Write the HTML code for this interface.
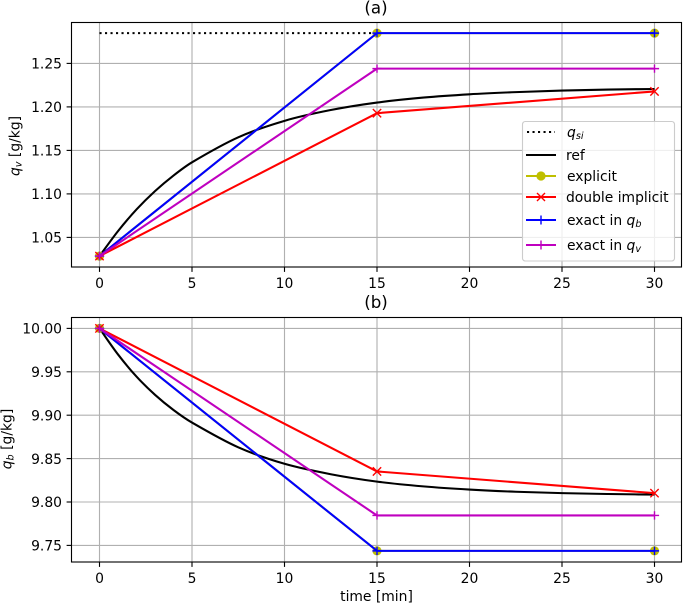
<!DOCTYPE html>
<html lang="en">
<head>
<meta charset="utf-8">
<title>Moisture partition: q_v and q_b versus time</title>
<style>
html,body{margin:0;padding:0;background:#fff;width:683px;height:605px;overflow:hidden}
svg{display:block}
text{font-family:"DejaVu Sans","Liberation Sans",sans-serif;font-size:13.89px;fill:#000}
.it{font-style:italic}
</style>
</head>
<body>
<svg id="fig" width="683" height="605" viewBox="0 0 683 605" xmlns="http://www.w3.org/2000/svg">
  <rect x="0" y="0" width="683" height="605" fill="#fff"/>
  <g id="panel-a"></g>
  <g id="panel-b"></g>

  <text x="376" y="13.5" text-anchor="middle" style="font-size:16.67px">(a)</text>
  <text x="376" y="308" text-anchor="middle" style="font-size:16.67px">(b)</text>
  <text x="376.5" y="601" text-anchor="middle">time [min]</text>
  <text transform="translate(19.5,146) rotate(-90)" text-anchor="middle"><tspan class="it">q</tspan><tspan class="it" dy="2" style="font-size:9.7px">v</tspan><tspan dy="-2"> [g/kg]</tspan></text>
  <text transform="translate(11.5,439) rotate(-90)" text-anchor="middle"><tspan class="it">q</tspan><tspan class="it" dy="2" style="font-size:9.7px">b</tspan><tspan dy="-2"> [g/kg]</tspan></text>

  <g id="legend">
    <rect x="522.5" y="121.5" width="152" height="139.5" rx="2.8" fill="#fff" fill-opacity="0.8" stroke="#ccc" stroke-width="1.1"/>

    <g>
      <line x1="527" y1="132" x2="555" y2="132" stroke="#000" stroke-width="2.08" stroke-dasharray="2.1 3.4"/>
      <text x="567" y="137"><tspan class="it">q</tspan><tspan class="it" dy="2" style="font-size:9.7px">si</tspan></text>
    </g>
    <g>
      <line x1="526" y1="155" x2="556" y2="155" stroke="#000" stroke-width="2.08"/>
      <text x="566" y="160">ref</text>
    </g>
    <g>
      <line x1="526" y1="176" x2="556" y2="176" stroke="#bfbf00" stroke-width="2.08"/>
      <circle cx="541" cy="176" r="4.6" fill="#bfbf00"/>
      <text x="567" y="181">explicit</text>
    </g>
    <g>
      <line x1="526" y1="197" x2="556" y2="197" stroke="#f00" stroke-width="2.08"/>
      <path d="M537 193L545 201M537 201L545 193" stroke="#f00" stroke-width="1.4" fill="none"/>
      <text x="566" y="202">double implicit</text>
    </g>
    <g>
      <line x1="526" y1="220" x2="556" y2="220" stroke="#00f" stroke-width="2.08"/>
      <path d="M541 215.5V224.5" stroke="#00f" stroke-width="1.4" fill="none"/>
      <text x="567" y="225">exact in <tspan class="it">q</tspan><tspan class="it" dy="2" style="font-size:9.7px">b</tspan></text>
    </g>
    <g>
      <line x1="526" y1="245" x2="556" y2="245" stroke="#bf00bf" stroke-width="2.08"/>
      <path d="M541 240.5V249.5" stroke="#bf00bf" stroke-width="1.4" fill="none"/>
      <text x="567" y="250">exact in <tspan class="it">q</tspan><tspan class="it" dy="2" style="font-size:9.7px">v</tspan></text>
    </g>
  </g>
</svg>

<script>
// ---- shared categories and tick labels ----
const refTime = [0, 1, 2, 3, 4, 5, 7.5, 10, 12.5, 15, 17.5, 20, 22.5, 25, 27.5, 30];
const stepTime = [0, 15, 30];
const xTicks = [0, 5, 10, 15, 20, 25, 30];
const yTicksA = ["1.05", "1.10", "1.15", "1.20", "1.25"];
const yTicksB = ["9.75", "9.80", "9.85", "9.90", "9.95", "10.00"];

// ---- panel (a): q_v ----
const qsiA = [1.2848, 1.2848];
const qsiTimeA = [0, 15];
const refA = [1.0285, 1.0572, 1.0821, 1.1032, 1.1211, 1.1363, 1.165, 1.184, 1.1964, 1.205, 1.2107, 1.2145, 1.217, 1.2188, 1.2199, 1.2206];
const explicitA = [1.0285, 1.2848, 1.2848];
const doubleImplicitA = [1.0285, 1.1928, 1.2178];
const exactQbA = [1.0285, 1.2848, 1.2848];
const exactQvA = [1.0285, 1.244, 1.244];

// ---- panel (b): q_b ----
const refB = [10.0, 9.97, 9.9445, 9.9235, 9.906, 9.8915, 9.863, 9.844, 9.832, 9.8235, 9.818, 9.8143, 9.8118, 9.8102, 9.8092, 9.8085];
const explicitB = [10.0, 9.7437, 9.7437];
const doubleImplicitB = [10.0, 9.8352, 9.8102];
const exactQbB = [10.0, 9.7437, 9.7437];
const exactQvB = [10.0, 9.7845, 9.7845];

const NS = 'http://www.w3.org/2000/svg';
const plotLeft = 71.5, plotRight = 681.5;
const xScale = t => 99.5 + t * 18.5;

function node(parent, tag, attrs) {
  const el = document.createElementNS(NS, tag);
  Object.keys(attrs).forEach(k => el.setAttribute(k, attrs[k]));
  parent.appendChild(el);
  return el;
}

function smoothPath(xs, ys) {
  let d = 'M' + xs[0] + ' ' + ys[0];
  for (let i = 0; i < xs.length - 1; i++) {
    const h = xs[i + 1] - xs[i];
    const p = Math.max(i - 1, 0), n = Math.min(i + 2, xs.length - 1);
    const m0 = (ys[i + 1] - ys[p]) / (xs[i + 1] - xs[p]);
    const m1 = (ys[n] - ys[i]) / (xs[n] - xs[i]);
    const c1x = xs[i] + h / 3, c1y = ys[i] + m0 * h / 3;
    const c2x = xs[i + 1] - h / 3, c2y = ys[i + 1] - m1 * h / 3;
    d += 'C' + c1x + ' ' + c1y + ' ' + c2x + ' ' + c2y + ' ' + xs[i + 1] + ' ' + ys[i + 1];
  }
  return d;
}

function drawSeries(g, name, ts, vals, yScale, color, marker, dash, smooth) {
  const xs = ts.map(xScale), ys = vals.map(yScale);
  const line = node(g, 'path', {
    d: smooth ? smoothPath(xs, ys) : 'M' + xs.map((x, i) => x + ' ' + ys[i]).join('L'),
    fill: 'none', stroke: color, 'stroke-width': 2.08, 'stroke-linejoin': 'round'
  });
  
  
  if (dash) line.setAttribute('stroke-dasharray', dash);
  if (!marker) return;
  xs.forEach((x, i) => {
    const y = ys[i];
    let m;
    if (marker === 'o') {
      m = node(g, 'circle', { cx: x, cy: y, r: 4.6, fill: color });
    } else {
      const r = 4.17;
      const d = marker === 'x'
        ? `M${x - r} ${y - r}L${x + r} ${y + r}M${x - r} ${y + r}L${x + r} ${y - r}`
        : `M${x - 4.6} ${y}L${x + 4.6} ${y}M${x} ${y - r}L${x} ${y + r}`;
      m = node(g, 'path', { d: d, fill: 'none', stroke: color, 'stroke-width': 1.39 });
    }
    
    
  });
}

function drawPanel(id, top, bottom, yScale, yTicks, series) {
  const g = document.getElementById(id);
  xTicks.forEach(t => {
    const x = xScale(t);
    const grid = node(g, 'line', { x1: x, x2: x, y1: top, y2: bottom, stroke: '#b0b0b0', 'stroke-width': 1.11 });
    
    
    const tick = node(g, 'line', { x1: x, x2: x, y1: bottom, y2: bottom + 4.9, stroke: '#000', 'stroke-width': 1.11 });
    
    
    const lab = node(g, 'text', { x: x, y: bottom + 21, 'text-anchor': 'middle' });
    lab.textContent = t;
    
    
  });
  yTicks.forEach(s => {
    const y = yScale(parseFloat(s));
    const grid = node(g, 'line', { x1: plotLeft, x2: plotRight, y1: y, y2: y, stroke: '#b0b0b0', 'stroke-width': 1.11 });
    
    
    const tick = node(g, 'line', { x1: plotLeft - 4.9, x2: plotLeft, y1: y, y2: y, stroke: '#000', 'stroke-width': 1.11 });
    
    
    const lab = node(g, 'text', { x: plotLeft - 9.5, y: y + 5.2, 'text-anchor': 'end' });
    lab.textContent = s;
    
    
  });
  series(g);
  const frame = node(g, 'rect', { x: plotLeft, y: top, width: plotRight - plotLeft, height: bottom - top, fill: 'none', stroke: '#000', 'stroke-width': 1.11 });
  
  
}

const yA = v => 237.4 - (v - 1.05) * 870;
const yB = v => 328.4 + (10 - v) * 868;

drawPanel('panel-a', 22.5, 267, yA, yTicksA, g => {
  drawSeries(g, 'qsi', qsiTimeA, qsiA, yA, '#000', null, '2.1 3.4', false);
  drawSeries(g, 'ref', refTime, refA, yA, '#000', null, null, true);
  drawSeries(g, 'explicit', stepTime, explicitA, yA, '#bfbf00', 'o', null, false);
  drawSeries(g, 'double-implicit', stepTime, doubleImplicitA, yA, '#f00', 'x', null, false);
  drawSeries(g, 'exact-qb', stepTime, exactQbA, yA, '#00f', '+', null, false);
  drawSeries(g, 'exact-qv', stepTime, exactQvA, yA, '#bf00bf', '+', null, false);
});

drawPanel('panel-b', 317.5, 562, yB, yTicksB, g => {
  drawSeries(g, 'ref', refTime, refB, yB, '#000', null, null, true);
  drawSeries(g, 'explicit', stepTime, explicitB, yB, '#bfbf00', 'o', null, false);
  drawSeries(g, 'double-implicit', stepTime, doubleImplicitB, yB, '#f00', 'x', null, false);
  drawSeries(g, 'exact-qb', stepTime, exactQbB, yB, '#00f', '+', null, false);
  drawSeries(g, 'exact-qv', stepTime, exactQvB, yB, '#bf00bf', '+', null, false);
});

// Legend sits above the plotted series.
const fig = document.getElementById('fig');
fig.appendChild(document.getElementById('legend'));
</script>
</body>
</html>
